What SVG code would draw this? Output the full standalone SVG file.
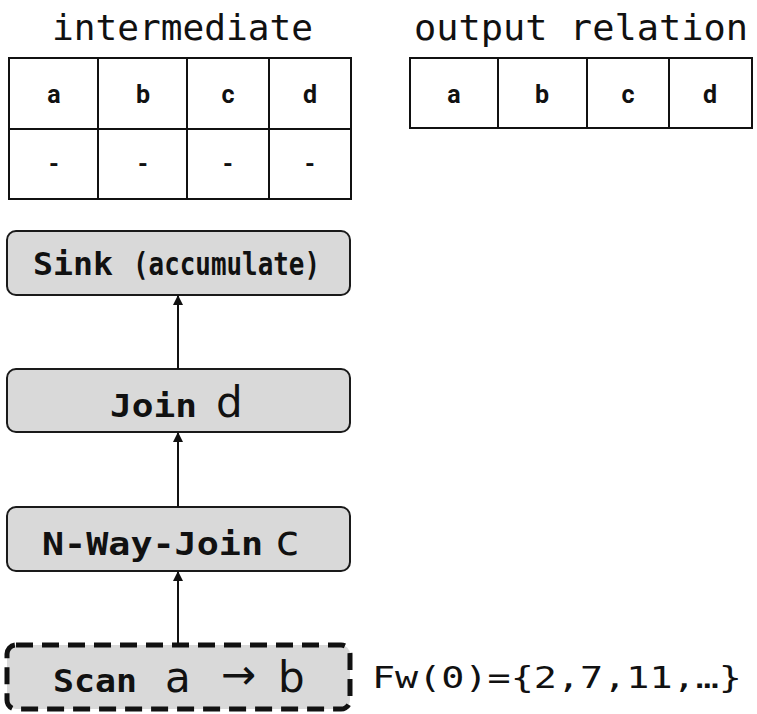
<svg xmlns="http://www.w3.org/2000/svg" width="757" height="714" viewBox="0 0 757 714">
  <style>
    .title { font-family: "DejaVu Sans Mono", "Liberation Mono", monospace; font-size: 36px; fill: #111; }
    .cell { fill: #fff; stroke: #111; stroke-width: 2; }
    .hdr { font-family: Roboto, "Liberation Sans", sans-serif; font-weight: bold; font-size: 25px; fill: #111; text-anchor: middle; }
    .box { fill: #d9d9d9; stroke: #1a1a1a; stroke-width: 2; }
    .dashed { stroke: #111; stroke-width: 5; stroke-dasharray: 17 9; }
    .op { font-family: "DejaVu Sans Mono", "Liberation Mono", monospace; font-weight: bold; font-size: 32px; fill: #111; }
    .var { font-family: "DejaVu Sans", "Liberation Sans", sans-serif; font-weight: normal; font-size: 42px; fill: #111; }
    .conn { stroke: #111; stroke-width: 2; fill: none; marker-end: url(#arrow); }
    .note { font-family: "DejaVu Sans Mono", "Liberation Mono", monospace; font-size: 31px; fill: #111; }
  </style>
  <defs>
    <marker id="arrow" viewBox="0 0 10 10" refX="9" refY="5" markerWidth="5" markerHeight="5" orient="auto">
      <path d="M0,0 L10,5 L0,10 z" fill="#111"/>
    </marker>
  </defs>
  <rect width="757" height="714" fill="#fff"/>

  <!-- intermediate relation -->
  <g id="intermediate">
    <text class="title" x="52" y="40" textLength="261" lengthAdjust="spacingAndGlyphs">intermediate</text>
    <rect class="cell" x="9" y="58" width="89" height="71"/>
    <rect class="cell" x="98" y="58" width="89" height="71"/>
    <rect class="cell" x="187" y="58" width="82" height="71"/>
    <rect class="cell" x="269" y="58" width="82" height="71"/>
    <rect class="cell" x="9" y="129" width="89" height="70"/>
    <rect class="cell" x="98" y="129" width="89" height="70"/>
    <rect class="cell" x="187" y="129" width="82" height="70"/>
    <rect class="cell" x="269" y="129" width="82" height="70"/>
    <text class="hdr" x="54" y="103">a</text>
    <text class="hdr" x="143" y="103">b</text>
    <text class="hdr" x="228" y="103">c</text>
    <text class="hdr" x="310" y="103">d</text>
    <text class="hdr" x="54" y="173">-</text>
    <text class="hdr" x="143" y="173">-</text>
    <text class="hdr" x="228" y="173">-</text>
    <text class="hdr" x="310" y="173">-</text>
  </g>

  <!-- output relation -->
  <g id="output">
    <text class="title" x="414" y="40" textLength="334" lengthAdjust="spacingAndGlyphs">output relation</text>
    <rect class="cell" x="410" y="58" width="88" height="70"/>
    <rect class="cell" x="498" y="58" width="89" height="70"/>
    <rect class="cell" x="587" y="58" width="82" height="70"/>
    <rect class="cell" x="669" y="58" width="83" height="70"/>
    <text class="hdr" x="454" y="103">a</text>
    <text class="hdr" x="542" y="103">b</text>
    <text class="hdr" x="628" y="103">c</text>
    <text class="hdr" x="710" y="103">d</text>
  </g>

  <!-- operator pipeline -->
  <g id="sink">
    <rect class="box" x="7" y="231" width="343" height="64" rx="9"/>
    <text class="op" x="33" y="275" textLength="80" lengthAdjust="spacingAndGlyphs">Sink</text>
    <text class="op" x="133" y="275" font-size="23" textLength="187" lengthAdjust="spacingAndGlyphs">(accumulate)</text>
  </g>

  <g id="join">
    <rect class="box" x="7" y="369" width="343" height="63" rx="9"/>
    <text class="op" x="110" y="417" textLength="87" lengthAdjust="spacingAndGlyphs">Join</text>
    <text class="var" x="216" y="417">d</text>
  </g>

  <g id="nway">
    <rect class="box" x="7" y="507" width="343" height="64" rx="9"/>
    <text class="op" x="42" y="555" textLength="221" lengthAdjust="spacingAndGlyphs">N-Way-Join</text>
    <text class="var" x="276" y="555">c</text>
  </g>

  <g id="scan">
    <rect class="box dashed" x="7" y="645" width="343" height="64" rx="9"/>
    <text class="op" x="53" y="692" textLength="84" lengthAdjust="spacingAndGlyphs">Scan</text>
    <text class="var" x="165" y="692">a</text>
    <text class="var" x="221" y="689" font-size="26">→</text>
    <text class="var" x="278" y="692">b</text>
  </g>

  <g id="frontier">
    <text class="note" x="372" y="688" textLength="370" lengthAdjust="spacingAndGlyphs">Fw(0)={2,7,11,…}</text>
  </g>

  <!-- connectors -->
  <g id="connectors">
    <line class="conn" x1="178" y1="369" x2="178" y2="296"/>
    <line class="conn" x1="178" y1="507" x2="178" y2="433"/>
    <line class="conn" x1="178" y1="645" x2="178" y2="572"/>
  </g>
</svg>
